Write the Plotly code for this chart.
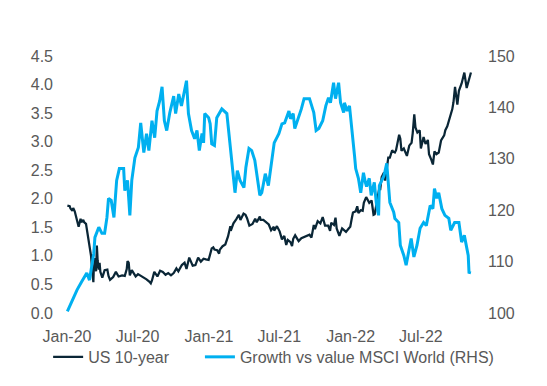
import plotly.graph_objects as go

# ---------------- data ----------------
us10_dates = [
    "2020-01-02", "2020-01-08", "2020-01-10", "2020-01-15", "2020-01-17", "2020-01-21", "2020-01-24",
    "2020-01-27", "2020-01-31", "2020-02-05", "2020-02-07", "2020-02-12", "2020-02-14", "2020-02-19",
    "2020-02-21", "2020-02-25", "2020-02-28", "2020-03-03", "2020-03-06", "2020-03-09", "2020-03-10",
    "2020-03-13", "2020-03-16", "2020-03-18", "2020-03-20", "2020-03-23", "2020-03-25", "2020-03-27",
    "2020-04-01", "2020-04-07", "2020-04-14", "2020-04-17", "2020-04-21", "2020-04-24", "2020-04-29",
    "2020-05-06", "2020-05-08", "2020-05-13", "2020-05-22", "2020-05-29", "2020-06-03", "2020-06-05",
    "2020-06-08", "2020-06-11", "2020-06-16", "2020-06-19", "2020-06-26", "2020-07-02", "2020-07-10",
    "2020-07-17", "2020-07-24", "2020-07-31", "2020-08-04", "2020-08-07", "2020-08-13", "2020-08-21",
    "2020-08-28", "2020-09-04", "2020-09-11", "2020-09-18", "2020-09-25", "2020-10-02", "2020-10-09",
    "2020-10-14", "2020-10-23", "2020-10-30", "2020-11-04", "2020-11-11", "2020-11-20", "2020-11-27",
    "2020-12-04", "2020-12-11", "2020-12-18", "2020-12-24", "2020-12-31", "2021-01-08", "2021-01-12",
    "2021-01-15", "2021-01-22", "2021-01-27", "2021-01-29", "2021-02-05", "2021-02-12", "2021-02-19",
    "2021-02-25", "2021-02-26", "2021-03-05", "2021-03-12", "2021-03-19", "2021-03-23", "2021-03-31",
    "2021-04-05", "2021-04-09", "2021-04-15", "2021-04-23", "2021-04-30", "2021-05-04", "2021-05-12",
    "2021-05-14", "2021-05-21", "2021-05-28", "2021-06-04", "2021-06-10", "2021-06-17", "2021-06-18",
    "2021-06-25", "2021-07-02", "2021-07-08", "2021-07-14", "2021-07-19", "2021-07-23", "2021-07-30",
    "2021-08-03", "2021-08-06", "2021-08-11", "2021-08-20", "2021-08-27", "2021-09-03", "2021-09-10",
    "2021-09-17", "2021-09-22", "2021-09-28", "2021-10-01", "2021-10-08", "2021-10-15", "2021-10-21",
    "2021-10-27", "2021-11-04", "2021-11-09", "2021-11-12", "2021-11-19", "2021-11-23", "2021-11-26",
    "2021-12-03", "2021-12-10", "2021-12-20", "2021-12-27", "2021-12-31", "2022-01-04", "2022-01-07",
    "2022-01-14", "2022-01-18", "2022-01-21", "2022-01-27", "2022-02-01", "2022-02-04", "2022-02-10",
    "2022-02-14", "2022-02-18", "2022-02-24", "2022-03-01", "2022-03-04", "2022-03-08", "2022-03-11",
    "2022-03-16", "2022-03-18", "2022-03-22", "2022-03-28", "2022-03-31", "2022-04-05", "2022-04-08",
    "2022-04-12", "2022-04-18", "2022-04-20", "2022-04-25", "2022-04-28", "2022-05-02", "2022-05-06",
    "2022-05-09", "2022-05-12", "2022-05-18", "2022-05-26", "2022-06-01", "2022-06-07", "2022-06-10",
    "2022-06-14", "2022-06-17", "2022-06-22", "2022-06-28", "2022-07-01", "2022-07-08", "2022-07-13",
    "2022-07-19", "2022-07-22", "2022-07-28", "2022-08-01", "2022-08-05", "2022-08-10", "2022-08-16",
    "2022-08-22", "2022-08-30", "2022-09-02", "2022-09-07", "2022-09-13", "2022-09-20", "2022-09-23",
    "2022-09-27", "2022-10-03", "2022-10-07", "2022-10-14", "2022-10-21", "2022-10-27", "2022-11-01",
    "2022-11-04", "2022-11-07",
]
us10_values = [
    1.88, 1.87, 1.83, 1.79, 1.84, 1.78, 1.70,
    1.61, 1.51, 1.65, 1.59, 1.63, 1.59, 1.56,
    1.47, 1.33, 1.13, 1.00, 0.74, 0.54, 0.76,
    0.96, 0.73, 1.18, 0.92, 0.76, 0.88, 0.72,
    0.62, 0.75, 0.76, 0.65, 0.58, 0.60, 0.63,
    0.72, 0.69, 0.64, 0.66, 0.65, 0.77, 0.91,
    0.88, 0.66, 0.75, 0.71, 0.64, 0.68, 0.65,
    0.63, 0.59, 0.55, 0.52, 0.57, 0.72, 0.64,
    0.74, 0.72, 0.67, 0.70, 0.66, 0.70, 0.78,
    0.73, 0.84, 0.88, 0.77, 0.97, 0.83, 0.84,
    0.97, 0.90, 0.95, 0.94, 0.93, 1.13, 1.15,
    1.11, 1.10, 1.04, 1.11, 1.17, 1.20, 1.34,
    1.52, 1.44, 1.57, 1.64, 1.72, 1.63, 1.74,
    1.72, 1.66, 1.53, 1.56, 1.65, 1.59, 1.69,
    1.63, 1.63, 1.59, 1.55, 1.45, 1.51, 1.44,
    1.52, 1.43, 1.29, 1.35, 1.19, 1.28, 1.24,
    1.17, 1.30, 1.36, 1.26, 1.31, 1.33, 1.34,
    1.37, 1.32, 1.54, 1.47, 1.61, 1.57, 1.68,
    1.53, 1.53, 1.44, 1.58, 1.54, 1.67, 1.48,
    1.35, 1.48, 1.42, 1.48, 1.51, 1.66, 1.76,
    1.78, 1.87, 1.75, 1.80, 1.79, 1.93, 2.03,
    1.99, 1.93, 1.97, 1.72, 1.73, 1.86, 2.00,
    2.19, 2.15, 2.38, 2.46, 2.32, 2.54, 2.72,
    2.72, 2.85, 2.83, 2.81, 2.85, 2.99, 3.12,
    3.05, 2.84, 2.88, 2.75, 2.93, 2.98, 3.15,
    3.48, 3.25, 3.16, 3.20, 2.88, 3.08, 2.96,
    3.03, 2.78, 2.68, 2.60, 2.83, 2.78, 2.81,
    3.02, 3.11, 3.20, 3.27, 3.41, 3.57, 3.69,
    3.96, 3.65, 3.89, 4.02, 4.21, 3.94, 4.05,
    4.16, 4.21,
]

gv_dates = [
    "2020-01-02", "2020-01-14", "2020-01-27", "2020-02-07", "2020-02-21", "2020-02-28", "2020-03-10",
    "2020-03-13", "2020-03-23", "2020-03-31", "2020-04-07", "2020-04-13", "2020-04-17", "2020-04-24",
    "2020-05-01", "2020-05-08", "2020-05-15", "2020-05-26", "2020-05-29", "2020-06-05", "2020-06-11",
    "2020-06-16", "2020-06-24", "2020-07-03", "2020-07-09", "2020-07-17", "2020-07-24", "2020-07-30",
    "2020-08-07", "2020-08-14", "2020-08-20", "2020-08-27", "2020-09-02", "2020-09-08", "2020-09-14",
    "2020-09-22", "2020-10-02", "2020-10-07", "2020-10-15", "2020-10-22", "2020-10-30", "2020-11-04",
    "2020-11-09", "2020-11-17", "2020-11-25", "2020-12-01", "2020-12-07", "2020-12-14", "2020-12-18",
    "2020-12-21", "2020-12-31", "2021-01-04", "2021-01-08", "2021-01-15", "2021-01-21", "2021-02-03",
    "2021-02-16", "2021-02-24", "2021-03-04", "2021-03-09", "2021-03-15", "2021-03-22", "2021-04-01",
    "2021-04-06", "2021-04-14", "2021-04-21", "2021-04-29", "2021-05-10", "2021-05-12", "2021-05-17",
    "2021-05-26", "2021-06-03", "2021-06-11", "2021-06-18", "2021-06-30", "2021-07-08", "2021-07-15",
    "2021-07-26", "2021-07-30", "2021-08-06", "2021-08-10", "2021-08-20", "2021-08-27", "2021-09-03",
    "2021-09-17", "2021-09-28", "2021-10-04", "2021-10-11", "2021-10-21", "2021-10-29", "2021-11-05",
    "2021-11-10", "2021-11-18", "2021-11-23", "2021-12-01", "2021-12-06", "2021-12-14", "2021-12-16",
    "2021-12-23", "2021-12-29", "2022-01-06", "2022-01-11", "2022-01-14", "2022-01-21", "2022-01-27",
    "2022-02-03", "2022-02-08", "2022-02-11", "2022-02-18", "2022-02-23", "2022-03-03", "2022-03-08",
    "2022-03-14", "2022-03-16", "2022-03-28", "2022-04-04", "2022-04-12", "2022-04-22", "2022-04-25",
    "2022-05-05", "2022-05-09", "2022-05-18", "2022-05-24", "2022-06-01", "2022-06-06", "2022-06-13",
    "2022-06-21", "2022-06-29", "2022-07-08", "2022-07-15", "2022-07-25", "2022-08-01", "2022-08-05",
    "2022-08-11", "2022-08-16", "2022-08-24", "2022-09-01", "2022-09-11", "2022-09-16", "2022-09-26",
    "2022-10-07", "2022-10-14", "2022-10-21", "2022-10-31", "2022-11-02", "2022-11-07",
]
gv_values = [
    100.3, 102.5, 104.5, 106.0, 107.8, 106.4, 111.6,
    114.7, 116.7, 115.5, 115.5, 118.6, 122.3, 121.9,
    118.6, 125.8, 128.1, 128.1, 123.8, 125.8, 119.0,
    125.8, 130.2, 132.2, 137.0, 131.2, 134.9, 131.6,
    137.4, 134.1, 139.3, 141.3, 144.0, 137.4, 135.5,
    139.0, 142.2, 138.8, 142.6, 140.3, 143.2, 145.2,
    138.8, 135.5, 133.9, 135.5, 131.6, 134.9, 133.1,
    138.8, 138.0, 136.8, 132.9, 132.6, 138.0, 139.7,
    138.8, 133.1, 127.7, 123.4, 127.7, 125.8, 124.4,
    128.3, 132.0, 131.6, 129.7, 124.4, 122.9, 123.4,
    127.1, 124.8, 129.3, 133.1, 134.9, 136.8, 137.0,
    139.3, 137.8, 138.8, 135.9, 138.0, 139.7, 141.7,
    141.7, 139.0, 135.5, 135.9, 137.4, 140.3, 141.9,
    140.9, 144.8, 141.7, 144.8, 140.9, 139.0, 140.9,
    139.3, 140.3, 135.1, 130.6, 128.1, 126.2, 123.4,
    127.3, 125.4, 124.6, 126.2, 122.9, 125.4, 121.5,
    119.0, 124.8, 126.7, 129.1, 121.5, 119.6, 118.4,
    117.6, 113.2, 111.2, 109.3, 112.6, 114.5, 110.9,
    113.2, 116.5, 117.6, 117.0, 120.9, 120.3, 124.2,
    122.3, 123.4, 120.3, 119.0, 118.4, 116.1, 117.6,
    117.6, 113.8, 115.1, 111.2, 107.9, 107.8,
]

tick_dates = ["2020-01-01", "2020-07-01", "2021-01-01", "2021-07-01", "2022-01-01", "2022-07-01"]
tick_labels = ["Jan-20", "Jul-20", "Jan-21", "Jul-21", "Jan-22", "Jul-22"]

# ---------------- figure ----------------
TEXT = "#595959"
FONT = "Liberation Sans, Arial, sans-serif"
FS = 16

fig = go.Figure()
fig.add_trace(go.Scatter(
    x=us10_dates, y=us10_values, name="US 10-year", mode="lines",
    line=dict(color="#0A2636", width=2.25), yaxis="y", legend="legend",
))
fig.add_trace(go.Scatter(
    x=gv_dates, y=gv_values, name="Growth vs value MSCI World (RHS)", mode="lines",
    line=dict(color="#00B0F0", width=3), yaxis="y2", legend="legend2",
))

legend_common = dict(
    orientation="h", xref="paper", yref="paper",
    xanchor="left", yanchor="middle",
    font=dict(family=FONT, size=FS, color=TEXT),
    bgcolor="rgba(0,0,0,0)", borderwidth=0,
)

fig.update_layout(
    width=539, height=378,
    margin=dict(l=52, r=63, t=48, b=73, autoexpand=False),
    paper_bgcolor="white", plot_bgcolor="white",
    font=dict(family=FONT, size=FS, color=TEXT),
    showlegend=True,
    legend=dict(x=-0.028, y=-0.171, **legend_common),
    legend2=dict(x=0.330, y=-0.171, **legend_common),
    xaxis=dict(
        type="date", range=["2019-12-14", "2022-12-10 16:00"],
        tickmode="array", tickvals=tick_dates, ticktext=tick_labels,
        showgrid=False, zeroline=False, showline=False, ticks="",
        ticklabelstandoff=12, automargin=False,
    ),
    yaxis=dict(
        range=[0, 4.5], dtick=0.5, tick0=0, tickformat=".1f",
        showgrid=False, zeroline=False, showline=False, ticks="",
        ticklabelstandoff=6, automargin=False,
    ),
    yaxis2=dict(
        range=[100, 150], dtick=10, tick0=100, overlaying="y", side="right",
        showgrid=False, zeroline=False, showline=False, ticks="",
        ticklabelstandoff=3, automargin=False,
    ),
)

fig.write_html("out.html")
